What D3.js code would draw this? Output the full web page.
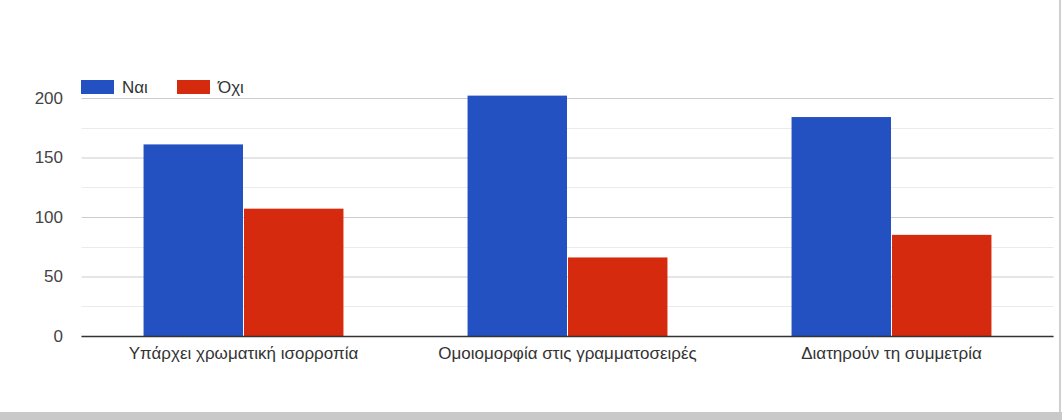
<!DOCTYPE html>
<html>
<head>
<meta charset="utf-8">
<script src="https://cdn.jsdelivr.net/npm/d3@7"></script>
<style>
  html, body { margin: 0; padding: 0; background: #fff; }
  svg { display: block; font-family: "Liberation Sans", Arial, sans-serif; }
</style>
</head>
<body>
<svg id="chart" width="1062" height="420"></svg>
<script>
// Survey answers per statement
const categories = ["Υπάρχει χρωματική ισορροπία", "Ομοιομορφία στις γραμματοσειρές", "Διατηρούν τη συμμετρία"];
const seriesNames = ["Ναι", "Όχι"];
const valuesYes = [161, 202, 184];
const valuesNo = [107, 66, 85];
const yTicks = [0, 50, 100, 150, 200];
const colors = ["#2451c1", "#d52a0e"];

const svg = d3.select("#chart");
const W = 1062, H = 420;
const plotLeft = 81.5, plotRight = 1053.5, plotTop = 98, plotBottom = 336;
const fontSize = "17px";

const x0 = d3.scaleBand().domain(categories).range([plotLeft, plotRight]).paddingInner(0.383).paddingOuter(0.1915);
const x1 = d3.scaleBand().domain(seriesNames).range([0, x0.bandwidth()]).paddingInner(0.01);
const y = d3.scaleLinear().domain([0, 200]).range([plotBottom, plotTop]);

// frame on the right and grey strip at the bottom
svg.append("rect").attr("x", 1059).attr("y", 0).attr("width", 2).attr("height", 412).attr("fill", "#d0d0d0");
svg.append("rect").attr("x", 0).attr("y", 412).attr("width", W).attr("height", 8).attr("fill", "#c9c9c9");

// minor gridlines
const minor = d3.range(25, 200, 50);
svg.append("g").selectAll("line").data(minor).join("line")
  .attr("x1", plotLeft).attr("x2", plotRight)
  .attr("y1", d => Math.round(y(d)) + 0.5).attr("y2", d => Math.round(y(d)) + 0.5)
  .attr("stroke", "#ebebeb").attr("stroke-width", 1);

// major gridlines + labels via axis
const yAxis = d3.axisLeft(y).tickValues(yTicks).tickSize(-(plotRight - plotLeft)).tickPadding(18.5);
const gy = svg.append("g").attr("transform", `translate(${plotLeft},0)`).call(yAxis);
gy.select(".domain").remove();
gy.selectAll(".tick line").attr("stroke", "#cccccc").attr("stroke-width", 1.2);
gy.selectAll(".tick text").attr("fill", "#444").style("font-size", fontSize)
  .style("font-family", "'Liberation Sans', Arial, sans-serif");

// bars
const data = categories.map((c, i) => ({ cat: c, vals: [valuesYes[i], valuesNo[i]] }));
const groups = svg.append("g").selectAll("g").data(data).join("g")
  .attr("transform", d => `translate(${x0(d.cat)},0)`);
groups.selectAll("rect").data(d => d.vals.map((v, j) => ({ s: seriesNames[j], v, j })))
  .join("rect")
  .attr("x", d => x1(d.s))
  .attr("y", d => y(d.v))
  .attr("width", x1.bandwidth())
  .attr("height", d => y(0) - y(d.v))
  .attr("fill", d => colors[d.j]);

// baseline
svg.append("line").attr("x1", plotLeft).attr("x2", plotRight)
  .attr("y1", y(0) + 0.5).attr("y2", y(0) + 0.5)
  .attr("stroke", "#333").attr("stroke-width", 1.5);

// category axis labels
const xAxis = d3.axisBottom(x0).tickSize(0).tickPadding(11);
const gx = svg.append("g").attr("transform", `translate(0,${plotBottom})`).call(xAxis);
gx.select(".domain").remove();
gx.selectAll(".tick text").attr("fill", "#333").style("font-size", fontSize)
  .style("font-family", "'Liberation Sans', Arial, sans-serif");

// legend
const legend = svg.append("g").attr("transform", "translate(81,80)");
const legX = [0, 96];
seriesNames.forEach((n, i) => {
  const g = legend.append("g").attr("transform", `translate(${legX[i]},0)`);
  g.append("rect").attr("width", 33).attr("height", 14).attr("fill", colors[i]);
  g.append("text").attr("x", 41).attr("y", 13).attr("fill", "#333")
    .style("font-size", fontSize).text(n);
});
</script>
</body>
</html>
